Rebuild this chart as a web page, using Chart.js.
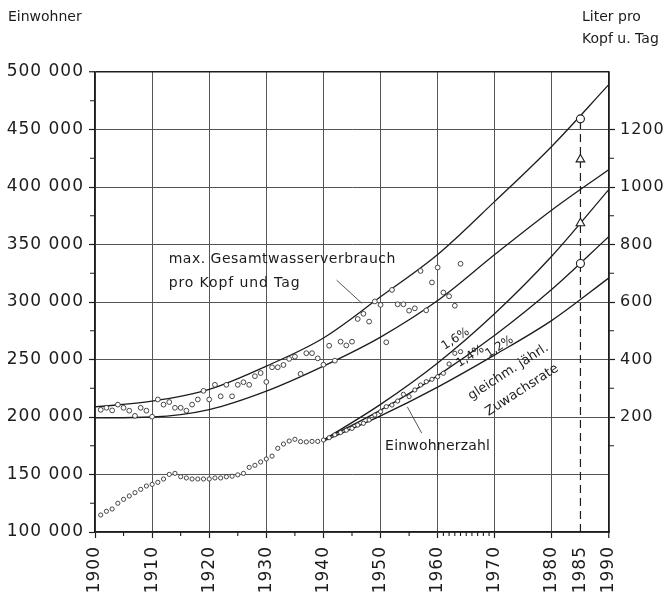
<!DOCTYPE html>
<html><head><meta charset="utf-8">
<script src="https://cdn.jsdelivr.net/npm/chart.js@4.4.0/dist/chart.umd.min.js"></script>
<style>html,body{margin:0;padding:0;background:#fff}#wrap{width:668px;height:592px}</style>
</head><body><div id="wrap"><canvas id="c" width="668" height="592"></canvas></div>
<script>
const FONT = '"DejaVu Sans", sans-serif';
const INK = '#1c1c1c';

// ---- axis ticks ----
const xTickYears = [1900, 1910, 1920, 1930, 1940, 1950, 1960, 1970, 1980, 1985, 1990];
const xMinorYears = [1905, 1915, 1925, 1935, 1945, 1955, 1961, 1962, 1963, 1964, 1965, 1966, 1967, 1968, 1969];
const leftMinor = [125000, 175000, 225000, 275000, 325000, 375000, 425000, 475000];
const rightLabels = [200, 400, 600, 800, 1000, 1200];
const rightMinor = [100, 300, 500, 700, 900, 1100];

// ---- fitted curves: max. water use per head and day (litres, right axis) ----
const curveYears = [1900, 1910, 1920, 1930, 1940, 1950, 1960, 1970, 1980, 1990];
const waterUpper = [235, 255, 296, 377, 475, 618, 765, 950, 1142, 1357];
const waterLower = [197, 200, 226, 290, 377, 478, 605, 765, 920, 1061];

// ---- population projections (inhabitants, left axis) ----
const projYears = [1940, 1950, 1960, 1970, 1980, 1990];
const pop16 = [180000, 211000, 247000, 290000, 340000, 398000];
const pop14 = [180000, 206000, 236000, 271000, 311000, 357000];
const pop12 = [179000, 201000, 226000, 254000, 284000, 321000];

// ---- observed yearly values ----
const obsYears = [1901,1902,1903,1904,1905,1906,1907,1908,1909,1910,1911,1912,1913,1914,1915,1916,1917,1918,1919,1920,
  1921,1922,1923,1924,1925,1926,1927,1928,1929,1930,1931,1932,1933,1934,1935,1936,1937,1938,1939,1940,
  1941,1942,1943,1944,1945,1946,1947,1948,1949,1950,1951,1952,1953,1954,1955,1956,1957,1958,1959,1960,
  1961,1962,1963,1964];
const waterObs = [225,232,223,243,232,222,204,232,222,201,261,243,252,232,232,222,243,261,291,261,
  312,272,312,272,312,321,312,342,353,322,373,373,381,402,410,350,422,422,404,382,
  448,396,462,449,462,541,559,532,602,590,460,642,592,592,570,578,708,571,668,720,
  633,620,587,733];
const popObs = [114800,118000,120000,125000,128400,131300,134200,137100,140000,141400,143200,146100,150100,151000,148100,147000,146100,146100,146100,146100,
  147000,147000,148000,148500,149700,151000,156200,158000,160900,163500,166000,172800,176500,179100,180600,178600,178300,178800,178800,180000,
  182000,184500,186500,188500,190100,193000,194500,197400,201700,204600,209000,210400,213900,219700,217700,223500,227800,230700,232800,235000,
  238000,246100,255400,256800];

// ---- 1985 forecast marks ----
const forecastYear = 1985;
const forecastWater = [1237, 1096];        // litres: circle, triangle
const forecastPop = [368500, 333500];      // inhabitants: triangle, circle

const pts = (xs, ys) => xs.map((x, i) => ({x, y: ys[i]}));
const fmtThousands = v => String(v).replace(/\B(?=(\d{3})+(?!\d))/g, ' ');

const curve = (data, axis) => ({data, yAxisID: axis, showLine: true, pointRadius: 0, borderColor: INK,
  borderWidth: 1.3, cubicInterpolationMode: 'monotone', fill: false, order: 5});

const setLS = (c, v) => { try { c.letterSpacing = v; } catch (e) {} };

const overlay = {
  id: 'overlay',
  beforeDraw(chart) {
    const c = chart.ctx; c.save(); c.fillStyle = '#fff'; c.fillRect(0, 0, chart.width, chart.height); c.restore();
    setLS(c, '1px');
  },
  afterDraw(chart) {
    const {ctx, scales: {x, y, yR}, chartArea: a} = chart;
    ctx.save();
    ctx.strokeStyle = INK; ctx.lineWidth = 1.1;
    ctx.beginPath();
    leftMinor.forEach(v => { const py = y.getPixelForValue(v); ctx.moveTo(a.left - 5, py); ctx.lineTo(a.left, py); });
    xMinorYears.forEach(v => { const px = x.getPixelForValue(v); ctx.moveTo(px, a.bottom); ctx.lineTo(px, a.bottom + 4); });
    rightMinor.forEach(v => { const py = yR.getPixelForValue(v); ctx.moveTo(a.right, py); ctx.lineTo(a.right + 5, py); });
    ctx.stroke();
    // leader lines
    ctx.lineWidth = 0.9; ctx.strokeStyle = '#444';
    const lead = (x1, y1, x2, y2) => { ctx.beginPath(); ctx.moveTo(x.getPixelForValue(x1), y.getPixelForValue(y1)); ctx.lineTo(x.getPixelForValue(x2), y.getPixelForValue(y2)); ctx.stroke(); };
    lead(1942.3, 319000, 1946.7, 299000);
    lead(1957.2, 186000, 1954.7, 208700);
    // texts
    ctx.fillStyle = INK;
    setLS(ctx, '0px');
    ctx.textBaseline = 'middle'; ctx.textAlign = 'left';
    ctx.font = '14px ' + FONT;
    ctx.fillText('Einwohner', 8, 17);
    ctx.fillText('Liter pro', 582, 17);
    ctx.fillText('Kopf u. Tag', 582, 39);
    const txt = (s, xv, yv, ang, size, ls, base) => {
      ctx.save(); ctx.translate(x.getPixelForValue(xv), y.getPixelForValue(yv)); ctx.rotate(ang * Math.PI / 180);
      setLS(ctx, ls); ctx.textBaseline = base;
      ctx.font = size + 'px ' + FONT; ctx.textAlign = 'left'; ctx.fillText(s, 0, 0); ctx.restore();
    };
    txt('max. Gesamtwasserverbrauch', 1912.9, 337000, 0, 14, '0.5px', 'middle');
    txt('pro Kopf und Tag', 1912.9, 316500, 0, 14, '0.9px', 'middle');
    txt('Einwohnerzahl', 1950.8, 174800, 0, 14, '0.2px', 'middle');
    txt('1,6%', 1961.2, 258300, -33, 12, '0px', 'alphabetic');
    txt('1,4%', 1963.8, 243300, -33, 12, '0px', 'alphabetic');
    txt('1,2%', 1968.9, 251500, -33, 12, '0px', 'alphabetic');
    txt('gleichm. jährl.', 1965.9, 214800, -33, 13, '0px', 'alphabetic');
    txt('Zuwachsrate', 1968.9, 200900, -33, 13, '0px', 'alphabetic');
    ctx.restore();
  }
};

new Chart(document.getElementById('c'), {
  type: 'scatter',
  data: {
    datasets: [
      curve(pts(curveYears, waterUpper), 'yR'),
      curve(pts(curveYears, waterLower), 'yR'),
      curve(pts(projYears, pop16), 'y'),
      curve(pts(projYears, pop14), 'y'),
      curve(pts(projYears, pop12), 'y'),
      {data: pts(obsYears, waterObs), yAxisID: 'yR', pointRadius: 2.4, pointBorderWidth: 0.9,
        pointBorderColor: '#333', pointBackgroundColor: '#fff', order: 4},
      {data: pts(obsYears, popObs), yAxisID: 'y', pointRadius: 2.1, pointBorderWidth: 0.9,
        pointBorderColor: '#333', pointBackgroundColor: '#fff', order: 4},
      {data: [{x: forecastYear, y: -200}, {x: forecastYear, y: forecastWater[0]}], yAxisID: 'yR', showLine: true,
        pointRadius: 0, borderColor: INK, borderWidth: 1.2, borderDash: [8, 5], order: 3},
      {data: forecastWater.map(v => ({x: forecastYear, y: v})), yAxisID: 'yR', pointStyle: ['circle', 'triangle'],
        pointRadius: [4, 5], pointBorderColor: INK, pointBorderWidth: 1.1, pointBackgroundColor: '#fff', order: 0},
      {data: forecastPop.map(v => ({x: forecastYear, y: v})), yAxisID: 'y', pointStyle: ['triangle', 'circle'],
        pointRadius: [5, 4], pointBorderColor: INK, pointBorderWidth: 1.1, pointBackgroundColor: '#fff', order: 0}
    ]
  },
  options: {
    responsive: false, animation: false, devicePixelRatio: 1,
    layout: {padding: {top: 72, left: 0, right: 0, bottom: 0}},
    plugins: {legend: {display: false}, tooltip: {enabled: false}},
    scales: {
      x: {
        type: 'linear', min: 1900, max: 1990,
        afterBuildTicks: s => { s.ticks = xTickYears.map(v => ({value: v})); },
        afterFit: s => { s.height = 60; },
        grid: {color: c => c.tick && c.tick.value === 1985 ? 'rgba(0,0,0,0)' : (c.tick && c.tick.value === 1990 ? INK : '#555'),
          lineWidth: c => c.tick && c.tick.value === 1990 ? 1.5 : 1,
          tickLength: 6, tickColor: c => c.tick && c.tick.value === 1985 ? 'rgba(0,0,0,0)' : INK, tickWidth: 1.2},
        border: {color: INK, width: 1.6},
        ticks: {minRotation: 90, maxRotation: 90, padding: 8, color: INK, font: {family: FONT, size: 17},
          callback: v => String(v)}
      },
      y: {
        position: 'left', min: 100000, max: 500000,
        afterFit: s => { s.width = 95; },
        grid: {color: c => c.tick && c.tick.value === 500000 ? INK : '#555',
          lineWidth: c => c.tick && c.tick.value === 500000 ? 1.5 : 1, tickLength: 6, tickColor: INK, tickWidth: 1.2},
        border: {color: INK, width: 1.6},
        ticks: {stepSize: 50000, padding: 5, color: INK, font: {family: FONT, size: 17}, callback: v => fmtThousands(v)}
      },
      yR: {
        position: 'right', min: -200, max: 1400,
        afterFit: s => { s.width = 59; },
        grid: {drawOnChartArea: false, tickLength: 6,
          tickColor: c => c.tick && rightLabels.includes(c.tick.value) ? INK : 'rgba(0,0,0,0)', tickWidth: 1.2},
        border: {color: INK, width: 1.6},
        ticks: {stepSize: 200, padding: 5, color: INK, font: {family: FONT, size: 16},
          callback: v => rightLabels.includes(v) ? String(v) : ''}
      }
    }
  },
  plugins: [overlay]
});
</script></body></html>
